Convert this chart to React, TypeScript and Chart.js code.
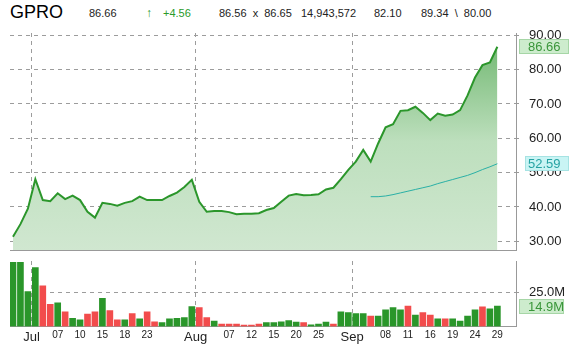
import React, { useEffect, useRef } from "react";
import { Chart, registerables } from "chart.js";

Chart.register(...registerables);

const FONT = "'Liberation Sans', Arial, sans-serif";

// Trading dates (MM-DD), 26 Jun 2014 .. 29 Sep 2014
const dates = [
  "06-26", "06-27", "06-30",
  "07-01", "07-02", "07-03", "07-07", "07-08", "07-09", "07-10", "07-11", "07-14", "07-15",
  "07-16", "07-17", "07-18", "07-21", "07-22", "07-23", "07-24", "07-25", "07-28", "07-29",
  "07-30", "07-31",
  "08-01", "08-04", "08-05", "08-06", "08-07", "08-08", "08-11", "08-12", "08-13", "08-14",
  "08-15", "08-18", "08-19", "08-20", "08-21", "08-22", "08-25", "08-26", "08-27", "08-28",
  "08-29",
  "09-02", "09-03", "09-04", "09-05", "09-08", "09-09", "09-10", "09-11", "09-12", "09-15",
  "09-16", "09-17", "09-18", "09-19", "09-22", "09-23", "09-24", "09-25", "09-26", "09-29",
];

const closes = [
  31.3, 35.0, 39.5, 48.1, 42.0, 41.7, 44.0, 42.3, 43.3, 42.0,
  38.6, 36.9, 41.2, 40.9, 40.4, 41.2, 41.7, 43.0, 42.0, 42.0,
  42.0, 43.2, 44.2, 45.8, 47.9, 41.5, 38.6, 38.8, 38.8, 38.5,
  37.9, 38.0, 38.0, 38.2, 39.1, 39.7, 41.5, 43.3, 43.8, 43.4,
  43.5, 43.7, 45.1, 45.6, 48.1, 50.8, 53.2, 56.6, 53.2, 58.5,
  63.2, 64.1, 68.0, 68.2, 69.2, 67.4, 65.3, 67.2, 66.6, 66.9,
  68.2, 72.5, 77.7, 81.3, 82.1, 86.66,
];

const maStartIndex = 48;
const movingAvg = [
  43.0, 43.0, 43.2, 43.6, 44.1, 44.6, 45.1, 45.6, 46.1, 46.8,
  47.4, 48.0, 48.6, 49.2, 50.0, 50.9, 51.7, 52.59,
];

// volume in millions
const volumes = [
  46.9, 46.9, 25.5, 43.0, 29.8, 16.2, 17.4, 10.8, 6.0, 4.8,
  9.1, 10.8, 20.6, 11.6, 4.8, 4.8, 9.4, 5.7, 10.8, 3.5,
  2.8, 5.7, 6.0, 6.5, 14.5, 13.8, 6.5, 4.0, 1.8, 1.8,
  1.8, 1.1, 1.1, 1.8, 2.8, 2.8, 3.5, 4.3, 3.3, 2.8,
  1.3, 1.8, 3.3, 1.8, 10.8, 10.1, 9.4, 9.4, 7.7, 7.7,
  12.1, 13.8, 12.1, 15.0, 8.4, 10.1, 8.4, 5.7, 5.7, 5.7,
  4.0, 7.7, 12.1, 14.3, 13.0, 14.9,
];

// G = up day, R = down day
const volumeDirection =
  "GGGGRRGRGG" + "RRGRRGRGRR" + "GGGGGRRGRR" + "RRRRGGGGGR" + "GGGRGGGGRG" + "GGGRGRRGRG" + "GGGRGG";

const monthNames = ["Jul", "Aug", "Sep"];
const monthFirstDates = ["07-01", "08-01", "09-02"];
const dayTickDates = [
  "07-07", "07-10", "07-15", "07-18", "07-23",
  "08-07", "08-12", "08-15", "08-20", "08-25",
  "09-08", "09-11", "09-16", "09-19", "09-24", "09-29",
];
const priceTicks = [30, 40, 50, 60, 70, 80, 90];
const volumeTicks = [25];

const monthTickValues = monthFirstDates.map((d) => dates.indexOf(d) - 0.5);
const dayTickValues = dayTickDates.map((d) => dates.indexOf(d));

const X_MIN = -0.4;
const X_MAX = 67.5;
const GRID = "#9c9c9c";
const DASH = [4, 4];

function drawBox(ctx: CanvasRenderingContext2D, x: number, w: number, yc: number, text: string, bg: string, border: string, color: string) {
  ctx.save();
  const h = 15;
  const top = Math.round(yc - h / 2);
  ctx.fillStyle = bg;
  ctx.fillRect(x, top, w, h);
  ctx.strokeStyle = border;
  ctx.lineWidth = 1;
  ctx.strokeRect(x + 0.5, top + 0.5, w - 1, h - 1);
  ctx.fillStyle = color;
  ctx.font = `13px ${FONT}`;
  ctx.textBaseline = "middle";
  ctx.textAlign = "left";
  ctx.fillText(text, 528, top + h / 2 + 0.5);
  ctx.restore();
}

const noPad = (s: any) => {
  s.paddingTop = 0;
  s.paddingBottom = 0;
  s.paddingLeft = 0;
  s.paddingRight = 0;
};

export default function App() {
  const priceRef = useRef<HTMLCanvasElement | null>(null);
  const volRef = useRef<HTMLCanvasElement | null>(null);

  useEffect(() => {
    document.body.style.margin = "0";
    const lastClose = closes[closes.length - 1];
    const lastMA = movingAvg[movingAvg.length - 1];
    const lastVol = volumes[volumes.length - 1];

    const priceLabels = {
      id: "priceLabels",
      afterDraw(chart: any) {
        const y = chart.scales.y;
        const ctx = chart.ctx;
        drawBox(ctx, 519, 50, y.getPixelForValue(lastClose), lastClose.toFixed(2), "#cdeccd", "#a6d6a6", "#3a963a");
        drawBox(ctx, 525, 44, y.getPixelForValue(lastMA), lastMA.toFixed(2), "#c9f4f4", "#a6e3e3", "#26a3a3");
      },
    };

    const priceChart = new Chart(priceRef.current!, {
      type: "line",
      data: {
        datasets: [
          {
            data: movingAvg.map((y, i) => ({ x: maStartIndex + i, y })),
            borderColor: "#2ab0a6",
            borderWidth: 1,
            pointRadius: 0,
            fill: false,
            tension: 0,
            order: 0,
          },
          {
            data: closes.map((y, i) => ({ x: i, y })),
            borderColor: "#2b962b",
            borderWidth: 2,
            pointRadius: 0,
            tension: 0,
            fill: "start",
            order: 1,
            backgroundColor: (c: any) => {
              const area = c.chart.chartArea;
              if (!area) return "#c8e6c8";
              const g = c.chart.ctx.createLinearGradient(0, area.top, 0, area.bottom);
              g.addColorStop(0, "#6cb56c");
              g.addColorStop(0.5, "#bddfbd");
              g.addColorStop(1, "#d0e7d0");
              return g;
            },
          },
        ],
      },
      options: {
        animation: false,
        responsive: false,
        maintainAspectRatio: false,
        layout: { padding: { left: 10, top: 33, right: 0, bottom: 5 } },
        plugins: { legend: { display: false }, tooltip: { enabled: false } },
        scales: {
          x: {
            type: "linear",
            min: X_MIN,
            max: X_MAX,
            afterBuildTicks: (s: any) => {
              s.ticks = monthTickValues.map((v) => ({ value: v }));
            },
            afterFit: (s: any) => {
              s.height = 0;
              noPad(s);
            },
            ticks: { display: false },
            grid: { color: GRID, drawTicks: false, lineWidth: 1, offset: false },
            border: { display: true, color: "#999999", dash: DASH },
          },
          y: {
            type: "linear",
            position: "right",
            min: 27.47,
            max: 90.67,
            afterBuildTicks: (s: any) => {
              s.ticks = priceTicks.map((v) => ({ value: v }));
            },
            afterFit: (s: any) => {
              s.width = 53;
              noPad(s);
            },
            ticks: {
              callback: (v: any) => Number(v).toFixed(2),
              font: { family: FONT, size: 13 },
              color: "#222222",
              padding: 10,
            },
            grid: { color: GRID, tickLength: 3, tickColor: "#999999" },
            border: { display: true, color: "#999999", dash: DASH },
          },
        },
      } as any,
      plugins: [priceLabels],
    });

    const volLabels = {
      id: "volLabels",
      afterDraw(chart: any) {
        const y = chart.scales.y;
        drawBox(chart.ctx, 519, 45, y.getPixelForValue(lastVol), lastVol.toFixed(1) + "M", "#cdeccd", "#a6d6a6", "#3a963a");
      },
    };

    const volChart = new Chart(volRef.current!, {
      type: "bar",
      data: {
        datasets: [
          {
            data: volumes.map((y, i) => ({ x: i, y })),
            backgroundColor: volumes.map((_, i) => (volumeDirection[i] === "G" ? "#2a962a" : "#f24c4c")),
            barThickness: 6,
            borderWidth: 0,
          },
        ],
      },
      options: {
        animation: false,
        responsive: false,
        maintainAspectRatio: false,
        layout: { padding: { left: 10, top: 6, right: 0, bottom: 0 } },
        plugins: { legend: { display: false }, tooltip: { enabled: false } },
        scales: {
          x: {
            type: "linear",
            min: X_MIN,
            max: X_MAX,
            offset: false,
            afterBuildTicks: (s: any) => {
              s.ticks = [...monthTickValues, ...dayTickValues].sort((a, b) => a - b).map((v) => ({ value: v }));
            },
            afterFit: (s: any) => {
              s.height = 24.5;
              noPad(s);
            },
            ticks: {
              autoSkip: false,
              maxRotation: 0,
              padding: 3,
              color: "#222222",
              callback: (v: any) => {
                const m = monthTickValues.indexOf(v);
                if (m >= 0) return monthNames[m];
                return dates[v] ? dates[v].slice(3) : "";
              },
              font: (c: any) =>
                c.tick && monthTickValues.indexOf(c.tick.value) >= 0
                  ? { family: FONT, size: 13 }
                  : { family: FONT, size: 10 },
            },
            grid: {
              drawTicks: false,
              offset: false,
              color: (c: any) =>
                c.tick && monthTickValues.indexOf(c.tick.value) >= 0 ? GRID : "rgba(0,0,0,0)",
            },
            border: { display: true, color: "#999999", dash: DASH },
          },
          y: {
            type: "linear",
            position: "right",
            min: 0,
            max: 47.9,
            afterBuildTicks: (s: any) => {
              s.ticks = volumeTicks.map((v) => ({ value: v }));
            },
            afterFit: (s: any) => {
              s.width = 53;
              noPad(s);
            },
            ticks: {
              callback: (v: any) => Number(v).toFixed(1) + "M",
              font: { family: FONT, size: 13 },
              color: "#222222",
              padding: 10,
            },
            grid: { color: GRID, tickLength: 3, tickColor: "#999999" },
            border: { display: true, color: "#999999", dash: DASH },
          },
        },
      } as any,
      plugins: [volLabels],
    });

    return () => {
      priceChart.destroy();
      volChart.destroy();
    };
  }, []);

  const hdr: React.CSSProperties = {
    position: "absolute",
    top: 6,
    fontFamily: FONT,
    fontSize: 11,
    lineHeight: "14px",
    color: "#222",
    whiteSpace: "pre",
  };

  return (
    <div style={{ position: "relative", width: 569, height: 351, background: "#fff", overflow: "hidden" }}>
      <span style={{ ...hdr, left: 10, top: 2, fontSize: 18, lineHeight: "21px", color: "#000" }}>GPRO</span>
      <span style={{ ...hdr, left: 89 }}>86.66</span>
      <span style={{ ...hdr, left: 146, color: "#2a9a2a", fontSize: 12 }}>↑</span>
      <span style={{ ...hdr, left: 163, color: "#2a9a2a" }}>+4.56</span>
      <span style={{ ...hdr, left: 219 }}>86.56  x  86.65</span>
      <span style={{ ...hdr, left: 301 }}>14,943,572</span>
      <span style={{ ...hdr, left: 374 }}>82.10</span>
      <span style={{ ...hdr, left: 421 }}>89.34  \  80.00</span>
      <canvas ref={priceRef} width={569} height={255} style={{ position: "absolute", left: 0, top: 0, width: 569, height: 255 }} />
      <canvas ref={volRef} width={569} height={96} style={{ position: "absolute", left: 0, top: 255, width: 569, height: 96 }} />
    </div>
  );
}
